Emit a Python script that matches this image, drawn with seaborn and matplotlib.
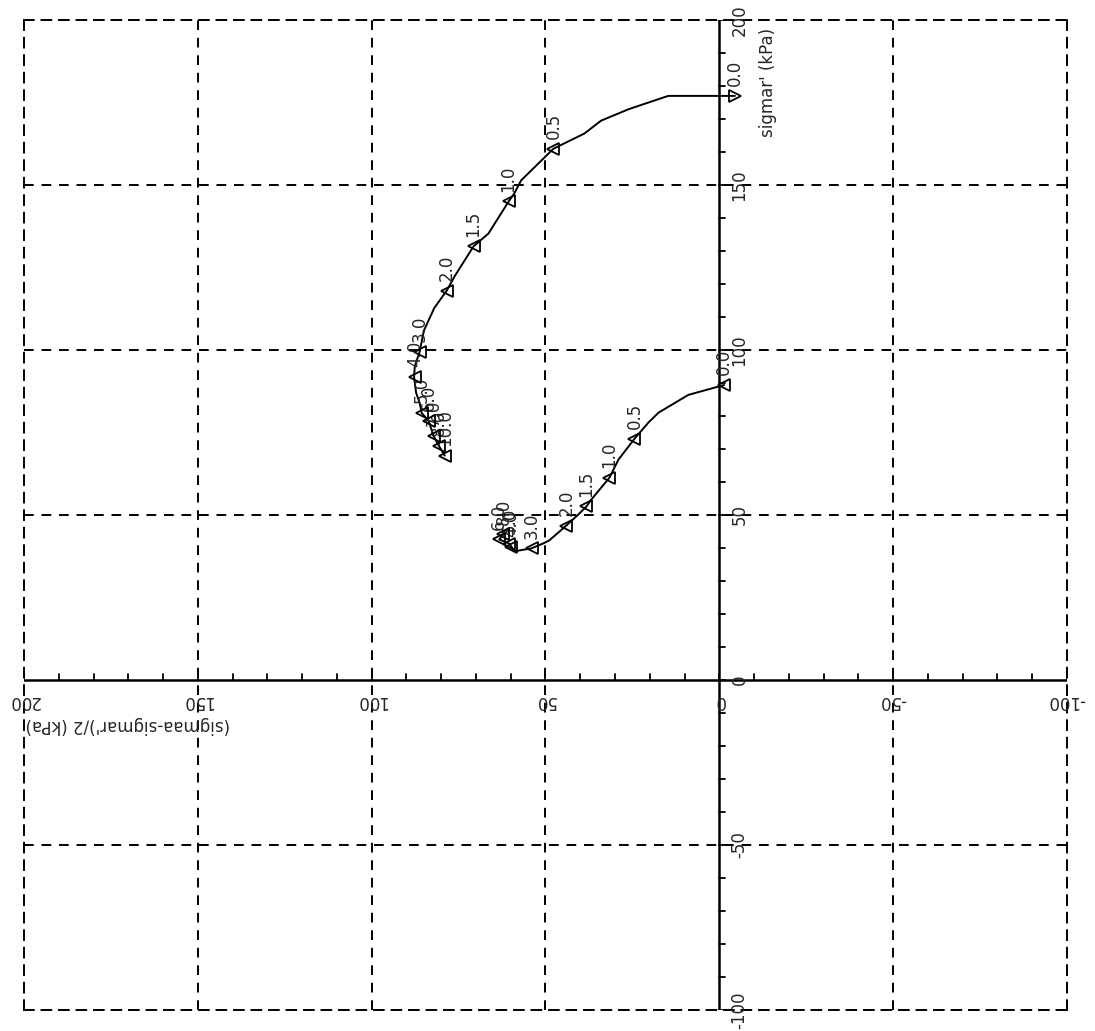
import numpy as np
import pandas as pd
import matplotlib
matplotlib.use("Agg")
import matplotlib.pyplot as plt
import seaborn as sns

# Estilo
sns.set_style("white")
plt.rcParams['font.family'] = ['DejaVu Sans']

# Datos: trayectoria 1 (superior)
path1_x = [-4.5, 14.7, 26.0, 34.0, 38.8, 47.7, 57.0, 59.0, 60.6, 66.4, 70.7, 76.1, 78.4,
           82.0, 85.0, 86.2, 87.6, 87.8, 87.2, 86.2, 85.6, 83.6, 82.2, 80.7, 79.0]
path1_y = [177.0, 177.0, 173.0, 169.5, 165.6, 161.0, 151.4, 147.4, 145.0, 135.3, 131.4, 122.4, 118.0,
           112.7, 105.8, 99.4, 95.0, 91.8, 87.0, 84.0, 80.9, 78.5, 74.0, 71.0, 68.0]
mk1_x = [-4.5, 47.7, 60.6, 70.7, 78.4, 86.2, 87.6, 85.6, 83.6, 82.2, 80.7, 79.0]
mk1_y = [177.0, 161.0, 145.0, 131.4, 118.0, 99.4, 91.8, 80.9, 78.5, 74.0, 71.0, 68.0]
mk1_t = ['0.0', '0.5', '1.0', '1.5', '2.0', '3.0', '4.0', '5.0', '6.0', '7.0', '8.0', '10.0']

# Datos: trayectoria 2 (inferior)
path2_x = [-1.4, 8.9, 17.5, 20.4, 24.4, 29.0, 31.6, 36.8, 38.2, 40.5, 44.0, 48.9, 50.6,
           54.0, 58.9, 59.8, 60.4, 63.3, 62.1]
path2_y = [89.4, 86.4, 81.0, 78.0, 73.1, 66.8, 61.3, 54.7, 52.6, 50.2, 46.8, 42.3, 41.4,
           39.9, 39.0, 40.4, 41.3, 42.6, 44.1]
mk2_x = [-1.4, 24.4, 31.6, 38.2, 44.0, 54.0, 59.8, 60.4, 63.3, 62.1]
mk2_y = [89.4, 73.1, 61.3, 52.6, 46.8, 39.9, 40.4, 41.3, 42.6, 44.1]
mk2_t = ['0.0', '0.5', '1.0', '1.5', '2.0', '3.0', '4.0', '5.0', '6.0', '8.0']

ticks = [200, 150, 100, 50, 0, -50, -100]

fig = plt.figure(figsize=(10.95, 10.31), dpi=100)
ax = fig.add_axes([0.0219, 0.0204, 0.9525, 0.9602])
ax.set_xlim(200, -100)
ax.set_ylim(-100, 200)
ax.set_xticks([])
ax.set_yticks([])

# Marco discontinuo
for s in ax.spines.values():
    s.set_visible(True)
    s.set_color('black')
    s.set_linewidth(1.4)
    s.set_linestyle((0, (5, 4)))

# Rejilla
for v in [150, 100, 50, -50]:
    ax.axvline(v, color='black', lw=1.4, ls=(0, (5, 4)), zorder=1)
    ax.axhline(v, color='black', lw=1.4, ls=(0, (5, 4)), zorder=1)

# Ejes en cero
ax.plot([200, -100], [0, 0], color='black', lw=1.8, zorder=2)
ax.plot([0, 0], [-100, 200], color='black', lw=1.8, zorder=2)
for t in range(-100, 201, 10):
    ax.plot([t, t], [0, 1.8], color='black', lw=1.3, zorder=2)
    ax.plot([0, -1.7], [t, t], color='black', lw=1.3, zorder=2)

# Etiquetas de los ejes
for v in ticks:
    ax.text(v, -6.5, str(v), rotation=180, ha='center', va='center', fontsize=12)
    ax.text(-5.8, v, str(v), rotation=90, ha='center', va='center', fontsize=12)
ax.text(199.5, -13.5, "(sigmaa-sigmar')/2 (kPa)", rotation=180, ha='left', va='center', fontsize=12)
ax.text(-14.0, 181.0, "sigmar' (kPa)", rotation=90, ha='center', va='center', fontsize=12)

# Trayectorias
df1 = pd.DataFrame({'x': path1_x, 'y': path1_y})
df2 = pd.DataFrame({'x': path2_x, 'y': path2_y})
sns.lineplot(data=df1, x='x', y='y', sort=False, estimator=None, color='black', lw=1.4, ax=ax, zorder=3)
sns.lineplot(data=df2, x='x', y='y', sort=False, estimator=None, color='black', lw=1.4, ax=ax, zorder=3)

# Marcadores y tiempos
for xs, ys, ts in [(mk1_x, mk1_y, mk1_t), (mk2_x, mk2_y, mk2_t)]:
    for i, (x, y, t) in enumerate(zip(xs, ys, ts)):
        m = '>' if (xs is mk1_x and i == 0) else '<'
        ax.plot(x, y, marker=m, ms=9, mfc='none', mec='black', mew=1.3, ls='none', zorder=4)
        ax.annotate(t, (x, y), xytext=(0, 7), textcoords='offset points',
                    rotation=90, ha='center', va='bottom', fontsize=12)

ax.set_xlabel('')
ax.set_ylabel('')
fig.savefig('out.png', dpi=100, facecolor='white')
